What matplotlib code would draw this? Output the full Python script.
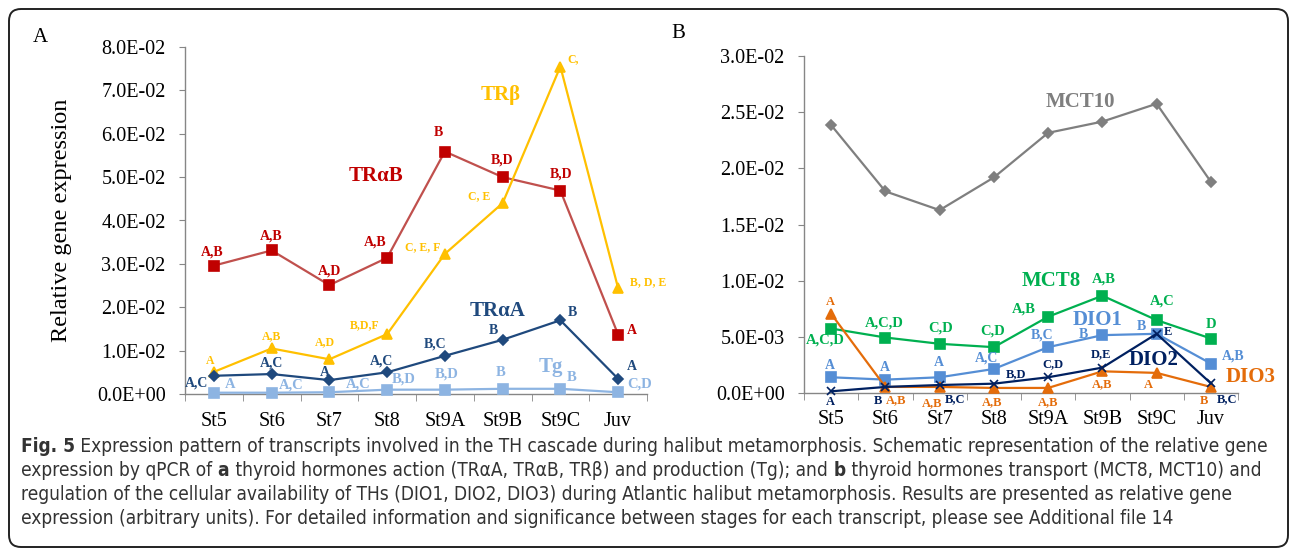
import matplotlib
matplotlib.use("Agg")
import matplotlib.pyplot as plt
from matplotlib import font_manager
from matplotlib.patches import FancyBboxPatch
from matplotlib.transforms import IdentityTransform
from matplotlib.ticker import FuncFormatter, FixedLocator

stages = ["St5", "St6", "St7", "St8", "St9A", "St9B", "St9C", "Juv"]

# panel A (relative expression)
tra_b = [0.0296, 0.0331, 0.0251, 0.0314, 0.0559, 0.0500, 0.0469, 0.0137]
tr_b = [0.0051, 0.0105, 0.0080, 0.0138, 0.0323, 0.0440, 0.0755, 0.0244]
tra_a = [0.0042, 0.0046, 0.0032, 0.0050, 0.0088, 0.0125, 0.0170, 0.0035]
tg = [0.0003, 0.0003, 0.0004, 0.0010, 0.0010, 0.0012, 0.0012, 0.0004]

# panel B
mct10 = [0.02385, 0.01795, 0.01628, 0.01919, 0.02316, 0.02416, 0.02575, 0.01880]
mct8 = [0.00574, 0.00494, 0.00438, 0.00408, 0.00679, 0.00866, 0.00649, 0.00485]
dio1 = [0.00140, 0.00119, 0.00140, 0.00214, 0.00408, 0.00515, 0.00527, 0.00262]
dio2 = [0.00015, 0.00054, 0.00071, 0.00083, 0.00140, 0.00226, 0.00527, 0.00086]
dio3 = [0.00705, 0.00054, 0.00054, 0.00045, 0.00045, 0.00193, 0.00179, 0.00054]

# significance letters
lab_tra_b = ["A,B", "A,B", "A,D", "A,B", "B", "B,D", "B,D", "A"]
lab_tr_b = ["A", "A,B", "A,D", "B,D,F", "C, E, F", "C, E", "C,", "B, D, E"]
lab_tra_a = ["A,C", "A,C", "A", "A,C", "B,C", "B", "B", "A"]
lab_tg = ["A", "A,C", "A,C", "B,D", "B,D", "B", "B", "C,D"]
lab_mct8 = ["A,C,D", "A,C,D", "C,D", "C,D", "A,B", "A,B", "A,C", "D"]
lab_dio1 = ["A", "A", "A", "A,C", "B,C", "B", "B", "A,B"]
lab_dio2 = ["A", "B", "B,C", "B,D", "C,D", "D,E", "E", "B,C"]
lab_dio3 = ["A", "A,B", "A,B", "A,B", "A,B", "A,B", "A", "B"]

# label offsets in pixels (dx, dy up)
off_tra_b = [(-2, 14), (0, 14), (0, 14), (-12, 16), (-6, 19), (-1, 17), (1, 17), (14, 4)]
off_tr_b = [(-4, 11), (0, 12), (-4, 17), (-22, 9), (-22, 7), (-24, 7), (13, 7), (30, 6)]
off_tra_a = [(-17, -7), (0, 11), (-5, 8), (-6, 11), (-10, 12), (-9, 9), (12, 8), (14, 12)]
off_tg = [(16, 8), (20, 8), (29, 8), (17, 11), (2, 16), (-2, 16), (11, 11), (22, 8)]
off_mct8 = [(-6, -11), (-1, 14), (1, 16), (-1, 16), (-24, 8), (1, 17), (6, 19), (0, 14)]
off_dio1 = [(-1, 12), (-1, 12), (-1, 15), (-7, 11), (-6, 12), (-19, 1), (-15, 7), (22, 8)]
off_dio2 = [(-1, -11), (-7, -14), (15, -14), (22, 10), (5, 13), (-1, 13), (11, 2), (16, -16)]
off_dio3 = [(-1, 12), (11, -13), (-7, -16), (-2, -14), (0, -14), (0, -13), (-8, -12), (-7, -14)]

DPI = 100
W, H = 1295, 553
serif = "Liberation Serif"


def find_narrow(bold):
    for f in font_manager.fontManager.ttflist:
        fn = f.fname.lower()
        if ("narrow" in fn or "condensed" in fn) and "sans" in f.name.lower() \
                and "mono" not in fn and "oblique" not in fn and "italic" not in fn \
                and f.style == "normal":
            w = f.weight if isinstance(f.weight, int) else (700 if "bold" in str(f.weight) else 400)
            if (w >= 600) == bold and "semibold" not in fn and "light" not in fn \
                    and "extra" not in fn:
                return f.fname
    return None


nr, nb = find_narrow(False), find_narrow(True)
if nr and nb:
    cap_props = {"normal": font_manager.FontProperties(fname=nr),
                 "bold": font_manager.FontProperties(fname=nb)}
else:
    cap_props = {"normal": font_manager.FontProperties(family="Open Sans"),
                 "bold": font_manager.FontProperties(family="Open Sans", weight="bold")}

fig = plt.figure(figsize=(W / DPI, H / DPI), dpi=DPI)
fig.patch.set_facecolor("white")


def px_axes(l, r, top, bot):
    return fig.add_axes([l / W, (H - bot) / H, (r - l) / W, (bot - top) / H])


def style_axes(ax, ymax, ystep, xpad):
    for s in ["top", "right"]:
        ax.spines[s].set_visible(False)
    for s in ["left", "bottom"]:
        ax.spines[s].set_color("#868686")
        ax.spines[s].set_linewidth(1.0)
    ax.set_xlim(-0.5, 7.5)
    ax.set_ylim(0, ymax)
    n = int(round(ymax / ystep))
    ax.set_yticks([i * ystep for i in range(n + 1)])
    ax.yaxis.set_major_formatter(FuncFormatter(lambda v, p: f"{v:.1E}"))
    ax.set_xticks(range(8))
    ax.set_xticklabels(stages)
    ax.xaxis.set_minor_locator(FixedLocator([i - 0.5 for i in range(9)]))
    ax.tick_params(axis="x", which="major", length=0, pad=xpad)
    ax.tick_params(axis="x", which="minor", length=5, color="#868686", direction="out")
    ax.tick_params(axis="y", length=4, color="#868686", pad=10)
    for t in ax.get_xticklabels() + ax.get_yticklabels():
        t.set_fontfamily(serif)
        t.set_fontsize(14.5)
    ax.set_facecolor("none")


def series(ax, vals, color, marker, ms, mcolor=None, lw=1.6):
    ax.plot(range(8), vals, color=color, lw=lw, marker=marker, markersize=ms,
            markerfacecolor=mcolor or color, markeredgecolor=mcolor or color,
            markeredgewidth=1.2, clip_on=False, zorder=3)


def letters(ax, vals, labs, offs, color, size=10):
    for i, (v, s, (dx, dy)) in enumerate(zip(vals, labs, offs)):
        ax.annotate(s, (i, v), xytext=(dx * 72 / DPI, dy * 72 / DPI),
                    textcoords="offset points", ha="center", va="center",
                    color=color, fontsize=size, fontweight="bold",
                    fontfamily=serif, annotation_clip=False, zorder=4)


def name(ax, x, y, s, color):
    ax.text(x, y, s, color=color, fontsize=15, fontweight="bold",
            fontfamily=serif, ha="center", va="center", zorder=4)


# ---- panel A
axA = px_axes(185, 647, 47, 394)
style_axes(axA, 0.08, 0.01, 13)
series(axA, tra_b, "#C0504D", "s", 6.5, mcolor="#C00000")
series(axA, tr_b, "#FFC000", "^", 7)
series(axA, tra_a, "#1F497D", "D", 5)
series(axA, tg, "#8DB4E2", "s", 7.5)
letters(axA, tra_b, lab_tra_b, off_tra_b, "#C00000", 10)
letters(axA, tr_b, lab_tr_b, off_tr_b, "#FFC000", 8.5)
letters(axA, tra_a, lab_tra_a, off_tra_a, "#1F497D", 10)
letters(axA, tg, lab_tg, off_tg, "#8DB4E2", 10.5)
name(axA, 2.81, 0.0502, "TR\u03b1B", "#C00000")
name(axA, 4.97, 0.069, "TR\u03b2", "#FFC000")
name(axA, 4.92, 0.0192, "TR\u03b1A", "#1F497D")
name(axA, 5.84, 0.0062, "Tg", "#8DB4E2")

# ---- panel B
axB = px_axes(804, 1238, 56, 393)
style_axes(axB, 0.03, 0.005, 12.5)
series(axB, mct10, "#7F7F7F", "D", 5)
series(axB, mct8, "#00B050", "s", 7)
series(axB, dio1, "#558ED5", "s", 7)
series(axB, dio3, "#E46C0A", "^", 6.5)
series(axB, dio2, "#002060", "x", 6)
letters(axB, mct8, lab_mct8, off_mct8, "#00B050", 10.5)
letters(axB, dio1, lab_dio1, off_dio1, "#558ED5", 10)
letters(axB, dio2, lab_dio2, off_dio2, "#002060", 9)
letters(axB, dio3, lab_dio3, off_dio3, "#E46C0A", 9)
name(axB, 4.59, 0.0259, "MCT10", "#7F7F7F")
name(axB, 4.05, 0.00994, "MCT8", "#00B050")
name(axB, 4.92, 0.0065, "DIO1", "#558ED5")
name(axB, 5.94, 0.00295, "DIO2", "#002060")
name(axB, 7.73, 0.0014, "DIO3", "#E46C0A")

# panel letters and y label
fig.text(40 / W, 1 - 38 / H, "A", fontsize=15, fontfamily=serif, ha="center", va="center")
fig.text(678 / W, 1 - 34 / H, "B", fontsize=15, fontfamily=serif, ha="center", va="center")
fig.text(62 / W, 1 - 220 / H, "Relative gene expression", fontsize=17.5,
         fontfamily=serif, rotation=90, ha="center", va="center")

# rounded frame
frame = FancyBboxPatch((9, 6), 1279, 538, boxstyle="round,pad=0,rounding_size=12",
                       transform=IdentityTransform(), fill=False, ec="#222222", lw=1.4)
fig.patches.append(frame)

# caption
caption = [
    [("Fig. 5", "bold"), (" Expression pattern of transcripts involved in the TH cascade during halibut "
                          "metamorphosis. Schematic representation of the relative gene", "normal")],
    [("expression by qPCR of", "normal"), (" a", "bold"),
     (" thyroid hormones action (TR\u03b1A, TR\u03b1B, TR\u03b2) and production (Tg); and", "normal"),
     (" b", "bold"), (" thyroid hormones transport (MCT8, MCT10) and", "normal")],
    [("regulation of the cellular availability of THs (DIO1, DIO2, DIO3) during Atlantic halibut "
      "metamorphosis. Results are presented as relative gene", "normal")],
    [("expression (arbitrary units). For detailed information and significance between stages for "
      "each transcript, please see Additional file 14", "normal")],
]
cap_y = [446, 470, 494, 518]
cap_x0 = 21
renderer = fig.canvas.get_renderer()


def cap_text(x, y, s, wt, size):
    fp = cap_props[wt].copy()
    fp.set_size(size)
    return fig.text(x, y, s, fontproperties=fp, color="#333333", va="center", ha="left",
                    transform=IdentityTransform())


def line_width(parts, size):
    w = 0
    for s, wt in parts:
        t = cap_text(0, 0, s, wt, size)
        w += t.get_window_extent(renderer).width
        t.remove()
    return w


cap_size = 12 * (1264 - cap_x0) / line_width(caption[0], 12)

for parts, yy in zip(caption, cap_y):
    x = cap_x0
    for s, wt in parts:
        t = cap_text(x, H - yy, s, wt, cap_size)
        x += t.get_window_extent(renderer).width

fig.savefig("out.png", dpi=DPI, facecolor="white")
